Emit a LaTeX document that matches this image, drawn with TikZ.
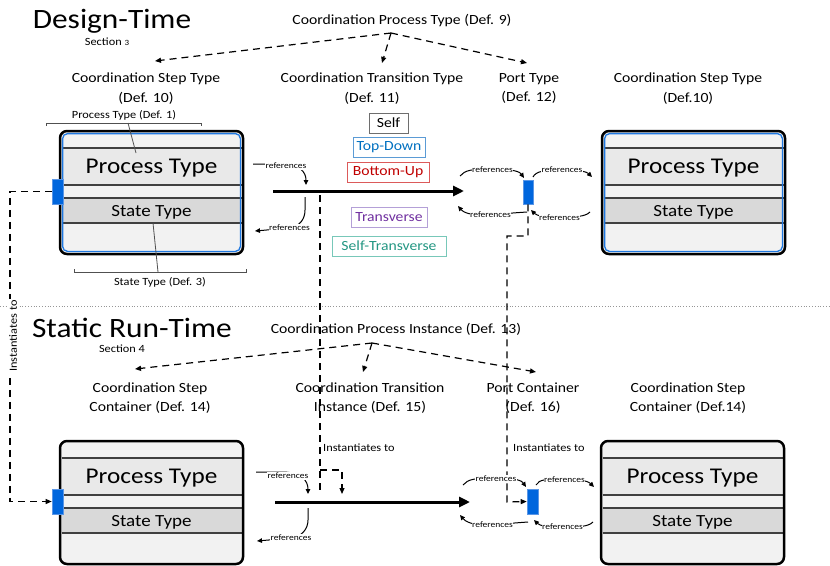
\documentclass[tikz,border=0pt]{standalone}
\usepackage{fontspec}
\setmainfont{Carlito}[FakeStretch=1.12]
\usetikzlibrary{arrows.meta}
\definecolor{boxbg}{RGB}{242,242,242}
\definecolor{procbg}{RGB}{233,233,233}
\definecolor{statebg}{RGB}{217,217,217}
\definecolor{bandcol}{RGB}{64,64,64}
\definecolor{innerbluec}{RGB}{30,120,225}
\definecolor{portblue}{RGB}{0,102,221}
\definecolor{portedge}{RGB}{90,150,230}
\definecolor{tdblue}{RGB}{0,112,192}
\definecolor{tdedge}{RGB}{91,155,213}
\definecolor{bured}{RGB}{192,0,0}
\definecolor{buedge}{RGB}{220,90,90}
\definecolor{trpurple}{RGB}{112,48,160}
\definecolor{tredge}{RGB}{180,160,215}
\definecolor{stteal}{RGB}{35,150,130}
\definecolor{stedge}{RGB}{120,200,185}
\definecolor{selfedge}{RGB}{110,110,110}
\definecolor{brackcol}{RGB}{80,80,80}
\definecolor{sepcol}{RGB}{150,150,150}

\newcommand\FS[2]{\fontsize{#1}{#2}\selectfont}

\tikzset{
 outerbox/.style={draw=black, line width=2.5pt, rounded corners=7pt, minimum width=183pt, minimum height=123pt, inner sep=0pt},
 innerline/.style={draw=innerbluec, line width=1.3pt, rounded corners=5pt},
 bandline/.style={draw=bandcol, line width=1.1pt},
 porttag/.style={fill=portblue, draw=portedge, line width=0.6pt, minimum width=11pt, minimum height=25pt, inner sep=0pt},
 dashline/.style={line width=1.2pt, dash pattern=on 7pt off 5pt},
 dasharr/.style={dashline, -{Triangle[length=6pt,width=5pt]}},
 refarr/.style={line width=1pt, -{Triangle[length=5pt,width=4.5pt]}},
 reflabel/.style={fill=white, inner sep=0.6pt, font=\FS{8.5}{10}},
 bigarr/.style={line width=3pt, -{Triangle[length=11pt,width=10pt]}},
 kindbox/.style={draw, line width=0.9pt, minimum height=20pt, inner sep=0pt, font=\FS{14}{16}},
 deflabel/.style={align=center, inner sep=0pt, font=\FS{14}{19.5}},
 basetext/.style={anchor=base, inner sep=0pt, font=\FS{14}{16}},
 smalltext/.style={anchor=base, inner sep=0pt, font=\FS{11}{13}},
 titletext/.style={anchor=base, inner sep=0pt, font=\FS{28}{32}},
 bracket/.style={draw=brackcol, line width=0.8pt},
}

\newcommand\StepBox[4]{%
 \fill[boxbg, rounded corners=7pt] (#2,#3) rectangle ++(183,123);
 \fill[procbg] (#2+1.5,#3+17) rectangle (#2+181.5,#3+54);
 \fill[statebg] (#2+1.5,#3+67) rectangle (#2+181.5,#3+92);
 \foreach \yy in {17,54,67,92} {\draw[bandline] (#2+1.5,#3+\yy) -- (#2+181.5,#3+\yy);}
 \node[outerbox] (#1) at (#2+91.5,#3+61.5) {};
 \ifnum#4=1 \draw[innerline] (#2+2.6,#3+2.6) rectangle (#2+180.4,#3+120.4);\fi
 \node[anchor=base, inner sep=0pt, font=\FS{22.5}{26}] (#1p) at (#2+91.5,#3+42.5) {Process Type};
 \node[anchor=base, inner sep=0pt, font=\FS{17}{20}] (#1s) at (#2+91.5,#3+85.5) {State Type};
}

\begin{document}
\begin{tikzpicture}[x=1pt,y=-1pt]
\useasboundingbox (0,0) rectangle (830,565);

% separator
\draw[sepcol, dotted, line width=0.8pt] (0,306) -- (830,306);

% boxes
\StepBox{BTL}{60}{131}{1}
\StepBox{BTR}{602}{131}{1}
\StepBox{BBL}{60}{441}{0}
\StepBox{BBR}{601}{441}{0}

% ports
\node[porttag] (pTL) at (57.5,191.5) {};
\node[porttag, minimum width=10pt, minimum height=24pt] (pTM) at (528,192) {};
\node[porttag] (pBL) at (57.5,501.5) {};
\node[porttag] (pBM) at (532.5,501.5) {};

% titles
\node[titletext] (dt) at (112,28) {Design-Time};
\node[smalltext] (s3) at (107,45) {Section {\FS{8}{10}3}};
\node[titletext] (srt) at (132,337) {Static Run-Time};
\node[smalltext] (s4) at (122,352) {Section 4};

% definition labels
\node[basetext] (cpt) at (402,24) {Coordination Process Type (Def. 9)};
\node[deflabel] (cst1) at (146,88.5) {Coordination Step Type\\(Def. 10)};
\node[deflabel] (ctt) at (372,88.5) {Coordination Transition Type\\(Def. 11)};
\node[deflabel] (ptl) at (529,88.5) {Port Type\\(Def. 12)};
\node[deflabel] (cst2) at (688,88.5) {Coordination Step Type\\(Def.10)};
\node[basetext] (cpi) at (396,333) {Coordination Process Instance (Def. 13)};
\node[deflabel] (csc1) at (150,398) {Coordination Step\\Container (Def. 14)};
\node[deflabel] (cti) at (370,398) {Coordination Transition\\Instance (Def. 15)};
\node[deflabel] (pcl) at (533,398) {Port Container\\(Def. 16)};
\node[deflabel] (csc2) at (688,398) {Coordination Step\\Container (Def.14)};

% apex arrows
\coordinate (apT) at (391,33);
\coordinate (tA) at (155,61);
\coordinate (tB) at (382,63);
\coordinate (tC) at (527,63);
\draw[dasharr] (apT) -- (tA);
\draw[dasharr] (apT) -- (tB);
\draw[dasharr] (apT) -- (tC);
\coordinate (apB) at (372,343);
\coordinate (bA) at (135,369);
\coordinate (bB) at (363,372);
\coordinate (bC) at (536,372);
\draw[dasharr] (apB) -- (bA);
\draw[dasharr] (apB) -- (bB);
\draw[dasharr] (apB) -- (bC);

% brackets
\draw[bracket] (46,126) -- (46,123) -- (201,123) -- (201,126);
\node[smalltext] (ptd) at (124,118) {Process Type (Def. 1)};
\draw[bracket] (128,123) -- (136,153);
\draw[bracket] (74,269) -- (74,272) -- (246,272) -- (246,269);
\node[smalltext] (std) at (160,285) {State Type (Def. 3)};
\draw[bracket] (153,223) -- (158,272);

% transition kinds
\node[kindbox, draw=selfedge, minimum width=39pt] (kSelf) at (388.5,123) {Self};
\node[kindbox, draw=tdedge, text=tdblue, minimum width=72pt] (kTD) at (389,147.5) {Top-Down};
\node[kindbox, draw=buedge, text=bured, minimum width=82pt] (kBU) at (388,172) {Bottom-Up};
\node[kindbox, draw=tredge, text=trpurple, minimum width=76pt] (kTR) at (389,217) {Transverse};
\node[kindbox, draw=stedge, text=stteal, minimum width=114pt] (kST) at (389,246) {Self-Transverse};

% main transition arrows
\coordinate (mT1) at (273,191);
\coordinate (mT2) at (464,191);
\draw[bigarr] (mT1) -- (mT2);
\coordinate (mB1) at (275,502);
\coordinate (mB2) at (470,502);
\draw[bigarr] (mB1) -- (mB2);

% instantiation lines
\coordinate (iL1) at (10,191.5);
\coordinate (iL2) at (10,501.5);
\draw[dasharr] (pTL.west) -- (iL1) -- (iL2) -- (pBL.west);
\node[rotate=90, fill=white, inner sep=1pt, font=\FS{11}{13}] (inst0) at (13,336) {Instantiates to};
\coordinate (iM1) at (320,195);
\coordinate (iM2) at (320,492);
\coordinate (iM3) at (320,470);
\coordinate (iM4) at (342,470);
\coordinate (iM5) at (342,494);
\draw[dashline] (iM1) -- (iM2);
\draw[dasharr] (iM3) -- (iM4) -- (iM5);
\node[smalltext, anchor=base west] (inst1) at (323,451) {Instantiates to};
\coordinate (iP1) at (528,236);
\coordinate (iP2) at (507,236);
\coordinate (iP3) at (507,502);
\draw[dasharr] (pTM.south) -- (iP1) -- (iP2) -- (iP3) -- (pBM.west);
\node[smalltext, anchor=base west] (inst2) at (513,451) {Instantiates to};

% references: top left
\coordinate (rA1) at (253,164);
\coordinate (rA2) at (306,185);
\draw[refarr] (rA1) -- (280,164) .. controls (300,164) and (306,172) .. (rA2);
\node[reflabel] (rl1) at (286,166) {references};
\coordinate (rB1) at (305,197);
\coordinate (rB2) at (255,231);
\draw[refarr] (rB1) -- (305,210) .. controls (305,219) and (300,226) .. (290,228) -- (rB2);
\node[reflabel] (rl2) at (289.5,228) {references};

% references: bottom left
\coordinate (rC1) at (256,472);
\coordinate (rC2) at (308,494);
\draw[refarr] (rC1) -- (282,472) .. controls (302,472) and (308,481) .. (rC2);
\node[reflabel] (rl3) at (288,476) {references};
\coordinate (rD1) at (308,508);
\coordinate (rD2) at (257,541);
\draw[refarr] (rD1) -- (308,520) .. controls (308,529) and (302,536) .. (292,538) -- (rD2);
\node[reflabel] (rl4) at (291,538) {references};

% references: top port
\coordinate (rE1) at (460,176);
\coordinate (rE2) at (524,178);
\draw[refarr] (rE1) .. controls (465,170) and (472,169) .. (492,169) .. controls (514,169) and (520,172) .. (rE2);
\node[reflabel] (rl5) at (492.5,169.5) {references};
\coordinate (rF1) at (533,177);
\coordinate (rF2) at (592,177);
\draw[refarr] (rF1) .. controls (536,171) and (545,170) .. (562,170) .. controls (581,170) and (587,172) .. (rF2);
\node[reflabel] (rl6) at (562,170) {references};
\coordinate (rG1) at (527,212);
\coordinate (rG2) at (458,206);
\draw[refarr] (rG1) .. controls (512,213) .. (490,215) .. controls (470,216) and (463,212) .. (rG2);
\node[reflabel] (rl7) at (490.5,215) {references};
\coordinate (rH1) at (590,212);
\coordinate (rH2) at (531,210);
\draw[refarr] (rH1) .. controls (585,217) and (575,217) .. (559,217) .. controls (545,217) and (537,216) .. (rH2);
\node[reflabel] (rl8) at (559.5,217.3) {references};

% references: bottom port
\coordinate (rI1) at (463,485);
\coordinate (rI2) at (526,487);
\draw[refarr] (rI1) .. controls (468,479) and (475,478) .. (496,478) .. controls (517,478) and (522,481) .. (rI2);
\node[reflabel] (rl9) at (496,479) {references};
\coordinate (rJ1) at (536,485);
\coordinate (rJ2) at (594,487);
\draw[refarr] (rJ1) .. controls (539,479) and (548,479) .. (564,479) .. controls (583,479) and (589,482) .. (rJ2);
\node[reflabel] (rl10) at (564.5,480) {references};
\coordinate (rK1) at (528,522);
\coordinate (rK2) at (460,515);
\draw[refarr] (rK1) .. controls (514,523) .. (492,525) .. controls (472,526) and (465,521) .. (rK2);
\node[reflabel] (rl11) at (492.5,525) {references};
\coordinate (rL1) at (593,522);
\coordinate (rL2) at (534,520);
\draw[refarr] (rL1) .. controls (588,527) and (578,527) .. (562,527) .. controls (548,527) and (540,526) .. (rL2);
\node[reflabel] (rl12) at (562.5,527) {references};

\end{tikzpicture}
\end{document}
